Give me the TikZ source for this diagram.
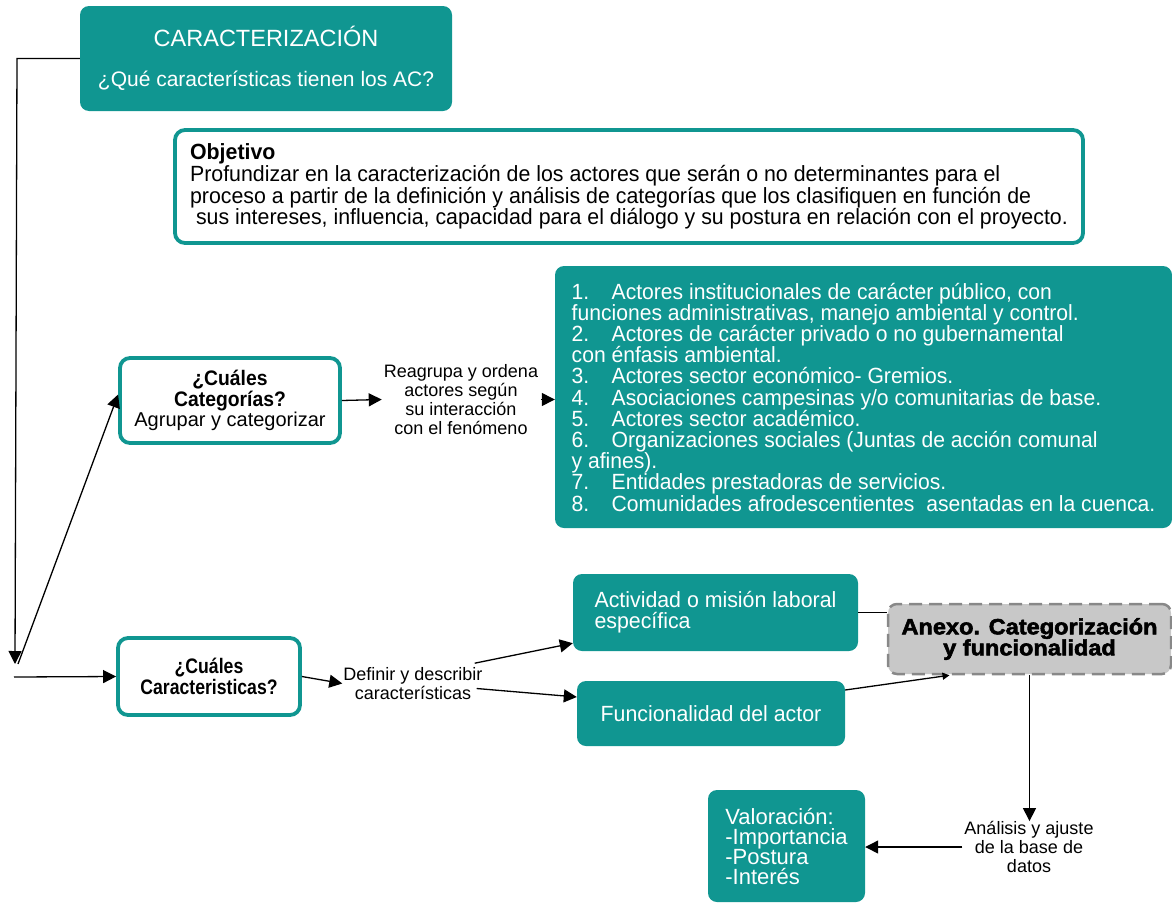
\documentclass[tikz,border=0pt]{standalone}
\usepackage{fontspec}
\setmainfont{Liberation Sans}
\newfontfamily\condA[FakeStretch=0.96]{Liberation Sans}
\newfontfamily\condB[FakeStretch=0.97]{Liberation Sans}
\newfontfamily\condC[FakeStretch=0.92]{Liberation Sans}
\newfontfamily\condD[FakeStretch=0.84]{Liberation Sans}
\newfontfamily\heavy[FakeStretch=1.07, BoldFeatures={FakeBold=2.5}]{Liberation Sans}
\usetikzlibrary{arrows.meta}
\definecolor{teal1}{HTML}{109691}
\definecolor{anxfill}{HTML}{C8C8C8}
\definecolor{anxdraw}{HTML}{888888}
\begin{document}
\begin{tikzpicture}[x=1pt,y=-1pt,
  every node/.style={inner sep=0pt},
  tealbox/.style={fill=teal1, rounded corners=9pt, text=white},
  outbox/.style={draw=teal1, line width=3.8pt, fill=white, rounded corners=10pt},
  arr/.style={-{Triangle[length=13pt,width=13pt]}, line width=1.3pt},
  smallarr/.style={-{Triangle[length=7pt,width=7pt]}, line width=1.3pt},
  plain/.style={line width=1.3pt},
  lbl/.style={align=center}
]
\useasboundingbox (0,0) rectangle (1172,905);

% boxes
\node[tealbox, minimum width=372pt, minimum height=105pt, align=center, font=\fontsize{21}{23}\selectfont] (top) at (266,58.5)
  {{\fontsize{23.5}{23}\selectfont CARACTERIZACIÓN}\\[17pt]¿Qué características tienen los AC?};

\node[outbox, minimum width=908pt, minimum height=113pt, align=left, font=\condB\fontsize{22}{20}\selectfont] (obj) at (629,186.5)
  {\textbf{Objetivo}\\
   Profundizar en la caracterización de los actores que serán o no determinantes para el\\
   proceso a partir de la definición y análisis de categorías que los clasifiquen en función de\\
   \ sus intereses, influencia, capacidad para el diálogo y su postura en relación con el proyecto.};

\node[outbox, minimum width=220pt, minimum height=85pt, align=center, font=\fontsize{20}{20.5}\selectfont] (cat) at (230,400.5)
  {{\condC\fontsize{21}{20.5}\selectfont\bfseries ¿Cuáles}\\{\condC\fontsize{21}{20.5}\selectfont\bfseries Categorías?}\\Agrupar y categorizar};

\node[lbl, font=\fontsize{18}{19}\selectfont] (reag) at (461,399.5) {Reagrupa y ordena\\actores según\\su interacción\\con el fenómeno};

\node[tealbox, minimum width=617pt, minimum height=262pt, align=left, font=\condA\fontsize{22}{21.2}\selectfont] (list) at (863.5,397)
  {\makebox[40pt][l]{1.}Actores institucionales de carácter público, con\\
   funciones administrativas, manejo ambiental y control.\\
   \makebox[40pt][l]{2.}Actores de carácter privado o no gubernamental\\
   con énfasis ambiental.\\
   \makebox[40pt][l]{3.}Actores sector económico- Gremios.\\
   \makebox[40pt][l]{4.}Asociaciones campesinas y/o comunitarias de base.\\
   \makebox[40pt][l]{5.}Actores sector académico.\\
   \makebox[40pt][l]{6.}Organizaciones sociales (Juntas de acción comunal\\
   y afines).\\
   \makebox[40pt][l]{7.}Entidades prestadoras de servicios.\\
   \makebox[40pt][l]{8.}Comunidades afrodescentientes\ \ asentadas en la cuenca.};

\node[outbox, minimum width=182pt, minimum height=77pt, align=center, font=\condD\bfseries\fontsize{21}{21}\selectfont] (car) at (209,676.5)
  {¿Cuáles\\Caracteristicas?};

\node[lbl, font=\fontsize{18}{19}\selectfont] (def) at (413,683.5) {Definir y describir\\características};

\node[tealbox, minimum width=285pt, minimum height=77pt, align=left, font=\condB\fontsize{22}{21}\selectfont] (act) at (715.5,612.5)
  {Actividad o misión laboral\\específica};

\node[tealbox, minimum width=268pt, minimum height=65pt, font=\condB\fontsize{22}{21}\selectfont] (fun) at (711,713.5)
  {Funcionalidad del actor};

\node[fill=anxfill, draw=anxdraw, dash pattern=on 13pt off 7pt, line width=2.5pt, rounded corners=9pt,
      minimum width=283pt, minimum height=70pt, align=center, font=\heavy\bfseries\fontsize{22}{21}\selectfont] (anx) at (1029.5,639)
  {Anexo. Categorización\\y funcionalidad};

\node[lbl, font=\fontsize{18}{19}\selectfont] (ana) at (1029,847) {Análisis y ajuste\\de la base de\\datos};

\node[tealbox, minimum width=157pt, minimum height=112pt, align=left, font=\fontsize{22}{20}\selectfont] (val) at (786.5,846)
  {Valoración:\\-Importancia\\-Postura\\-Interés};

% connectors
\coordinate (corner) at (17,58.5);
\coordinate (vend) at (15,664);
\coordinate (split) at (18,664);
\coordinate (hstart) at (14,677);
\draw[arr] (top.west) -- (corner) -- (vend);
\draw[arr] (split) -- ([yshift=6pt]cat.west);
\draw[arr] (hstart) -- (car.west);
\draw[arr] (cat.east) -- ([xshift=-2pt]reag.west);
\draw[arr] ([xshift=3pt]reag.east) -- (reag.east -| list.west);
\draw[arr] (car.east) -- ([xshift=-1pt]def.west);
\draw[arr] ([xshift=-8pt,yshift=4pt]def.north east) -- ([yshift=8pt]act.south west);
\draw[arr] ([xshift=-6pt,yshift=-5pt]def.east) -- ([yshift=16.5pt]fun.west);
\draw[plain] (act.east) -- (act.east -| anx.west);
\draw[smallarr] ([yshift=23.5pt]fun.east) -- ([xshift=-80pt]anx.south);
\draw[arr] (anx.south) -- (anx.south |- ana.north);
\draw[arr] ([xshift=-2pt]ana.west) -- (ana.west -| val.east);
\end{tikzpicture}
\end{document}
